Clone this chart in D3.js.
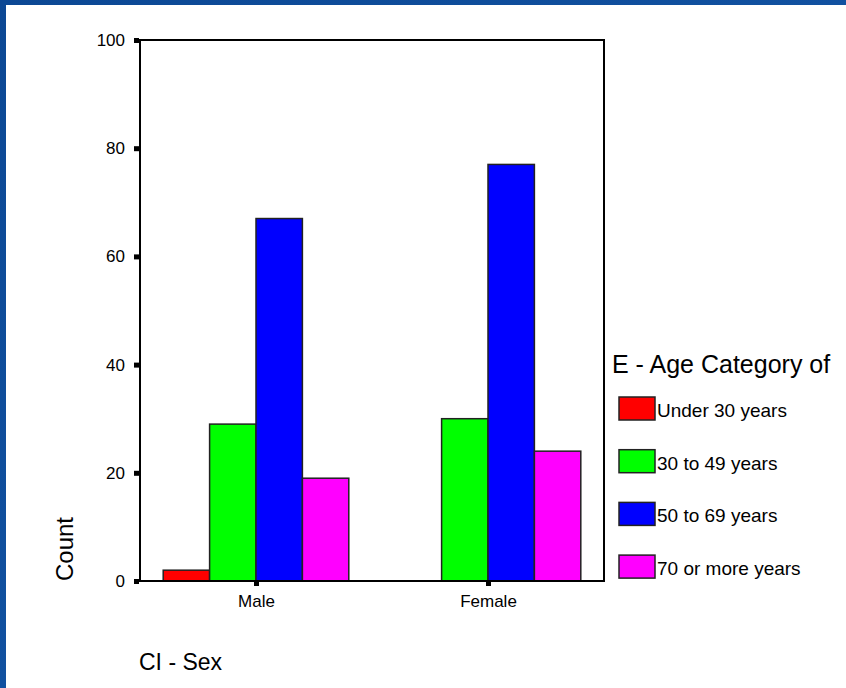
<!DOCTYPE html>
<html><head><meta charset="utf-8">
<script src="https://cdn.jsdelivr.net/npm/d3@7"></script>
<style>body{margin:0;background:#0b4692;} svg{display:block;}</style>
</head><body>
<script>
const categories = ["Male", "Female"];
const series = ["Under 30 years", "30 to 49 years", "50 to 69 years", "70 or more years"];
const under30 = [2, 0];
const from30to49 = [29, 30];
const from50to69 = [67, 77];
const over70 = [19, 24];
const colors = ["#ff0000", "#00ff00", "#0000ff", "#ff00ff"];
const yTicks = [0, 20, 40, 60, 80, 100];

const values = [under30, from30to49, from50to69, over70];
const W = 846, H = 688;
const svg = d3.select("body").append("svg").attr("width", W).attr("height", H);

// background
const defs = svg.append("defs");
const g1 = defs.append("linearGradient").attr("id","bg").attr("x1",0).attr("y1",0).attr("x2",1).attr("y2",1);
g1.append("stop").attr("offset","0%").attr("stop-color","#0c4894");
g1.append("stop").attr("offset","50%").attr("stop-color","#1151a0");
g1.append("stop").attr("offset","100%").attr("stop-color","#0a438c");
svg.append("rect").attr("width",W).attr("height",H).attr("fill","url(#bg)");
svg.append("rect").attr("x",6).attr("y",5).attr("width",W-6).attr("height",H-5).attr("fill","#fff");

const pLeft = 140, pRight = 604, pTop = 40, pBottom = 581;
const x0 = d3.scaleBand().domain(categories).range([pLeft, pRight]).paddingInner(0.2).paddingOuter(0.1);
const x1 = d3.scaleBand().domain(series).range([0, x0.bandwidth()]);
const y = d3.scaleLinear().domain([0, 100]).range([pBottom, pTop]);

const font = "Arial, 'Liberation Sans', sans-serif";

// bars
categories.forEach((c, ci) => {
  series.forEach((s, si) => {
    const v = values[si][ci];
    if (v <= 0) return;
    svg.append("rect")
      .attr("x", x0(c) + x1(s))
      .attr("y", y(v))
      .attr("width", x1.bandwidth())
      .attr("height", y(0) - y(v))
      .attr("fill", colors[si])
      .attr("stroke", "#222")
      .attr("stroke-width", 1.5);
  });
});

// frame
svg.append("rect").attr("x", pLeft).attr("y", pTop).attr("width", pRight-pLeft).attr("height", pBottom-pTop)
  .attr("fill","none").attr("stroke","#000").attr("stroke-width",2);

// y axis
const yAxis = d3.axisLeft(y).tickValues(yTicks).tickSize(0).tickPadding(15);
const ya = svg.append("g").attr("transform", `translate(${pLeft},0)`).call(yAxis);
ya.select(".domain").remove();
ya.selectAll("text").attr("font-family", font).attr("font-size", 17).attr("fill","#000");
ya.selectAll(".tick").append("rect").attr("x",-6).attr("y",-2.5).attr("width",5).attr("height",5).attr("fill","#000");

// x axis
const xPos = d3.scalePoint().domain(categories).range([x0("Male")+x0.bandwidth()/2, x0("Female")+x0.bandwidth()/2]);
const xa = svg.append("g").attr("transform", `translate(0,${pBottom})`).call(
  d3.axisBottom(xPos).tickSize(0).tickPadding(14));
xa.select(".domain").remove();
xa.selectAll("text").attr("font-family", font).attr("font-size", 17).attr("fill","#000");
xa.selectAll(".tick").append("rect").attr("x",-2.5).attr("y",0).attr("width",5).attr("height",5).attr("fill","#000");

// axis titles
svg.append("text").attr("transform", "translate(73,549) rotate(-90)").attr("text-anchor","middle")
  .attr("font-family", font).attr("font-size", 24).text("Count");
svg.append("text").attr("x", 139).attr("y", 670).attr("font-family", font).attr("font-size", 23).text("CI - Sex");

// legend
svg.append("text").attr("x", 612).attr("y", 373).attr("font-family", font).attr("font-size", 25).text("E - Age Category of");
const lg = svg.append("g").selectAll("g").data(series).join("g")
  .attr("transform", (d,i) => `translate(619,${397 + i*52.7})`);
lg.append("rect").attr("width",36).attr("height",23).attr("fill",(d,i)=>colors[i]).attr("stroke","#222").attr("stroke-width",1.5);
lg.append("text").attr("x",38).attr("y",20).attr("font-family", font).attr("font-size",19).text(d=>d);
</script>
</body></html>
